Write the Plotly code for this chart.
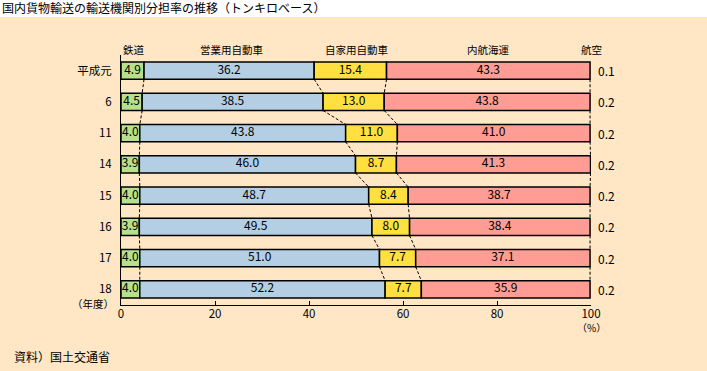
import plotly.graph_objects as go

years = ["平成元", "6", "11", "14", "15", "16", "17", "18"]
rail = [4.9, 4.5, 4.0, 3.9, 4.0, 3.9, 4.0, 4.0]
truck_commercial = [36.2, 38.5, 43.8, 46.0, 48.7, 49.5, 51.0, 52.2]
truck_private = [15.4, 13.0, 11.0, 8.7, 8.4, 8.0, 7.7, 7.7]
coastal_shipping = [43.3, 43.8, 41.0, 41.3, 38.7, 38.4, 37.1, 35.9]
air = [0.1, 0.2, 0.2, 0.2, 0.2, 0.2, 0.2, 0.2]
series_names = ["鉄道", "営業用自動車", "自家用自動車", "内航海運"]
x_ticks = [0, 20, 40, 60, 80, 100]

colors = ["#B6E08C", "#B4CEE4", "#FFE040", "#FF9C94"]
FONT = "Noto Sans CJK JP"
BG = "#FFE6C4"

series = [rail, truck_commercial, truck_private, coastal_shipping]
ypos = list(range(len(years)))
W = 0.55
N = len(years)

fig = go.Figure()
bases = [0.0] * N
cums = []
for name, vals, col in zip(series_names, series, colors):
    fig.add_trace(go.Bar(
        y=ypos, x=vals, base=bases[:], orientation="h", width=W,
        marker=dict(color=col, line=dict(color="black", width=1.5)),
        name=name, showlegend=False, hoverinfo="skip"))
    centers = [b + v / 2 for b, v in zip(bases, vals)]
    fig.add_trace(go.Scatter(
        x=centers, y=ypos, mode="text", text=[f"{v:.1f}" for v in vals],
        textfont=dict(family=FONT, size=12, color="black"),
        showlegend=False, hoverinfo="skip"))
    bases = [b + v for b, v in zip(bases, vals)]
    cums.append(bases[:])

# dashed connectors between consecutive rows
shapes = []
for c in cums:
    for i in range(N - 1):
        shapes.append(dict(type="line", xref="x", yref="y",
                           x0=c[i], y0=i + W / 2, x1=c[i + 1], y1=i + 1 - W / 2,
                           line=dict(color="black", width=1, dash="3px,2px")))

# white title band
shapes.append(dict(type="rect", xref="paper", yref="paper",
                   x0=-0.3, x1=1.3, y0=1.152, y1=1.25,
                   fillcolor="white", line=dict(width=0), layer="below"))

annotations = []
annotations.append(dict(text="国内貨物輸送の輸送機関別分担率の推移（トンキロベース）",
                        xref="paper", yref="paper", x=-0.257, y=1.192,
                        xanchor="left", yanchor="middle", showarrow=False,
                        font=dict(family=FONT, size=12, color="black")))
header_x = [0, 23.6, 50.2, 78.1]
header_anchor = ["left", "center", "center", "center"]
for name, hx, anc in zip(series_names, header_x, header_anchor):
    annotations.append(dict(text=name, xref="x", yref="paper", x=hx, y=1.02,
                            xanchor=anc, yanchor="middle", showarrow=False,
                            font=dict(family=FONT, size=10.5, color="black")))
annotations.append(dict(text="航空", xref="paper", yref="paper", x=1.002, y=1.02,
                        xanchor="center", yanchor="middle", showarrow=False,
                        font=dict(family=FONT, size=10.5, color="black")))
for i, a in enumerate(air):
    annotations.append(dict(text=f"{a:.1f}", xref="paper", yref="y", x=1.011, y=i,
                            xanchor="left", yanchor="middle", showarrow=False,
                            font=dict(family=FONT, size=12, color="black")))
annotations.append(dict(text="（年度）", xref="paper", yref="paper", x=-0.011, y=0.008,
                        xanchor="right", yanchor="middle", showarrow=False,
                        font=dict(family=FONT, size=10.5, color="black")))
annotations.append(dict(text="（%）", xref="x", yref="paper", x=100, y=-0.09,
                        xanchor="center", yanchor="middle", showarrow=False,
                        font=dict(family=FONT, size=10, color="black")))
annotations.append(dict(text="資料）国土交通省", xref="paper", yref="paper", x=-0.232, y=-0.204,
                        xanchor="left", yanchor="middle", showarrow=False,
                        font=dict(family=FONT, size=12, color="black")))

fig.update_layout(
    width=707, height=371,
    margin=dict(l=121, r=116, t=55, b=66),
    paper_bgcolor=BG, plot_bgcolor=BG,
    barmode="overlay",
    shapes=shapes, annotations=annotations,
    font=dict(family=FONT, size=12, color="black"),
    xaxis=dict(range=[0, 100], tickvals=x_ticks, ticks="inside", ticklen=4,
               tickcolor="black", showline=True, linecolor="black", linewidth=1,
               showgrid=False, zeroline=False, fixedrange=True,
               ticklabelstandoff=-2,
               tickfont=dict(family=FONT, size=11.5, color="black")),
    yaxis=dict(range=[N - 0.5, -0.5], tickvals=ypos, ticktext=years,
               ticks="", showline=True, linecolor="black", linewidth=1,
               showgrid=False, zeroline=False, ticklabelstandoff=6,
               tickfont=dict(family=FONT, size=11.5, color="black")),
)

fig.write_html("out.html", config={"displayModeBar": False},
               post_script="document.body.style.margin='0';document.body.style.background='" + BG + "';")
